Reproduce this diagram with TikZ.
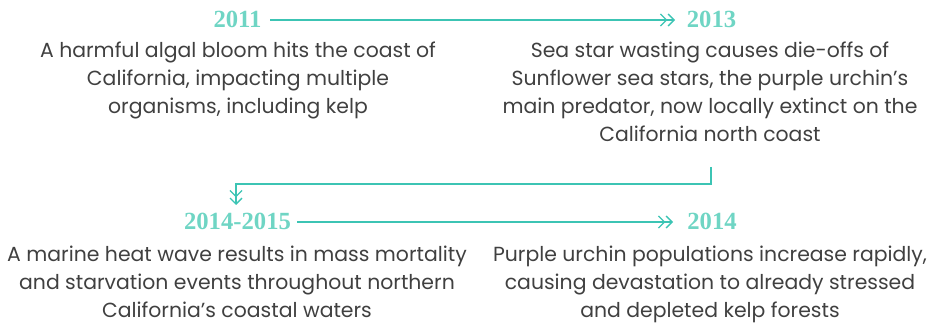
\documentclass[tikz,border=0pt]{standalone}
\usepackage{fontspec}
\setmainfont{Poppins}
\newfontfamily\yearfont{Liberation Serif}
\usetikzlibrary{arrows.meta}
\definecolor{teal1}{HTML}{3CC4B4}
\definecolor{yearc}{HTML}{6FD5C4}
\definecolor{txt}{HTML}{404040}
\tikzset{
  year/.style={text=yearc, font=\yearfont\bfseries\fontsize{18.5}{20}\selectfont, inner sep=0pt, anchor=base},
  desc/.style={text=txt, font=\fontsize{15.3}{21}\selectfont, align=center, inner sep=0pt, anchor=north},
  conn/.style={draw=teal1, line width=1pt, -{Straight Barb[length=4.5pt,width=9pt,line width=1pt]Straight Barb[length=4.5pt,width=9pt,line width=1pt]}}
}
\begin{document}
\begin{tikzpicture}[x=0.75pt,y=-0.75pt]
\useasboundingbox (0,0) rectangle (947,324);
\node[year] (y2011) at (237.5,28) {2011};
\node[year] (y2013) at (711.5,28) {2013};
\node[year] (y1415) at (237.5,230) {2014-2015};
\node[year] (y2014) at (712,230) {2014};
\node[desc] (d2011) at (238,42) {A harmful algal bloom hits the coast of\\California, impacting multiple\\organisms, including kelp};
\node[desc] (d2013) at (710,42) {Sea star wasting causes die-offs of\\Sunflower sea stars, the purple urchin’s\\main predator, now locally extinct on the\\California north coast};
\node[desc] (d1415) at (237,246) {A marine heat wave results in mass mortality\\and starvation events throughout northern\\California’s coastal waters};
\node[desc] (d2014) at (710,246) {Purple urchin populations increase rapidly,\\causing devastation to already stressed\\and depleted kelp forests};
\coordinate (a1s) at (270,20);
\coordinate (a1e) at (675,20);
\coordinate (a2s) at (297,222);
\coordinate (a2e) at (673,222);
\coordinate (c1) at (711,167);
\coordinate (c2) at (711,184);
\coordinate (c3) at (236,184);
\coordinate (c4) at (236,205);
\draw[conn] (a1s) -- (a1e);
\draw[conn] (a2s) -- (a2e);
\draw[conn] (c1) -- (c2) -- (c3) -- (c4);
\end{tikzpicture}
\end{document}
